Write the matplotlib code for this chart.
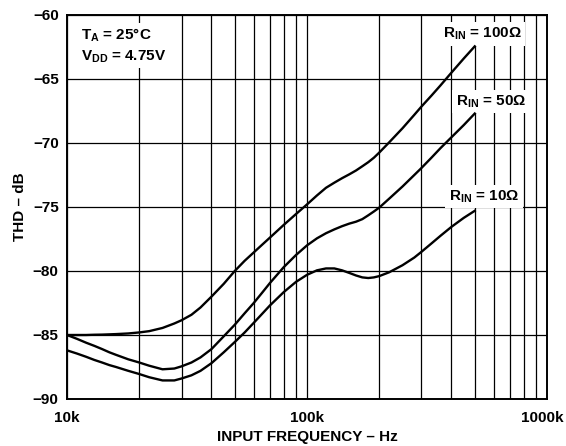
import matplotlib
matplotlib.use('Agg')
import matplotlib.pyplot as plt
from matplotlib.ticker import FixedLocator, NullFormatter
from matplotlib.transforms import ScaledTranslation

plt.rcParams['font.family'] = ['Liberation Sans', 'DejaVu Sans']
plt.rcParams['font.weight'] = 'bold'
plt.rcParams['mathtext.fontset'] = 'custom'
plt.rcParams['mathtext.rm'] = 'Liberation Sans:bold'
plt.rcParams['mathtext.bf'] = 'Liberation Sans:bold'
plt.rcParams['mathtext.default'] = 'bf'

# frequencies in kHz (same grid for all three curves), THD in dB
freq = [10, 11, 12, 13, 14, 15, 16, 18, 20, 22, 25, 28, 30, 33, 36, 40, 45, 50, 55, 60,
        65, 70, 80, 90, 100, 110, 120, 130, 140, 150, 160, 170, 180, 190, 200, 220,
        250, 280, 300, 330, 360, 400, 450, 500]

thd_100 = [-85.0, -85.0, -85.0, -84.98, -84.97, -84.95, -84.93, -84.88, -84.8, -84.7,
           -84.45, -84.1, -83.85, -83.42, -82.85, -82.0, -81.0, -80.0, -79.2, -78.55,
           -77.95, -77.4, -76.4, -75.55, -74.8, -74.1, -73.5, -73.1, -72.75, -72.45,
           -72.15, -71.82, -71.5, -71.15, -70.75, -69.95, -68.85, -67.8, -67.15, -66.3,
           -65.5, -64.5, -63.4, -62.45]

thd_50 = [-85.0, -85.3, -85.6, -85.85, -86.1, -86.35, -86.55, -86.9, -87.15, -87.4,
          -87.68, -87.62, -87.45, -87.15, -86.75, -86.1, -85.1, -84.2, -83.3, -82.5,
          -81.7, -80.95, -79.7, -78.75, -78.0, -77.45, -77.05, -76.75, -76.5, -76.3,
          -76.15, -75.95, -75.65, -75.35, -75.05, -74.35, -73.4, -72.5, -71.95, -71.15,
          -70.4, -69.55, -68.6, -67.7]

thd_10 = [-86.2, -86.45, -86.7, -86.95, -87.15, -87.35, -87.5, -87.8, -88.05, -88.3,
          -88.55, -88.55, -88.4, -88.15, -87.8, -87.2, -86.35, -85.55, -84.8, -84.05,
          -83.35, -82.7, -81.65, -80.85, -80.3, -79.95, -79.8, -79.8, -79.95, -80.15,
          -80.35, -80.5, -80.55, -80.5, -80.4, -80.1, -79.55, -78.95, -78.5, -77.85,
          -77.25, -76.55, -75.85, -75.3]

x_ticks = [10, 100, 1000]
x_tick_labels = ['10k', '100k', '1000k']
y_ticks = [-90, -85, -80, -75, -70, -65, -60]

fig = plt.figure(figsize=(5.66, 4.46), dpi=100)
ax = fig.add_axes([0.1184, 0.1054, 0.848, 0.861])

for thd in (thd_100, thd_50, thd_10):
    ax.plot(freq, thd, color='black', linewidth=1.7, zorder=3)

ax.set_xscale('log')
ax.set_xlim(10, 1000)
ax.set_ylim(-90, -60)

minor = [m * d for d in (10, 100) for m in range(2, 10)]
ax.xaxis.set_major_locator(FixedLocator(x_ticks))
ax.xaxis.set_minor_locator(FixedLocator(minor))
ax.xaxis.set_minor_formatter(NullFormatter())
ax.set_xticklabels(x_tick_labels)
ax.set_yticks(y_ticks)
ax.set_yticklabels([str(v).replace('-', '\u2212') for v in y_ticks])
ax.tick_params(which='both', length=0, labelsize=11)
ax.tick_params(axis='x', pad=9)
ax.tick_params(axis='y', pad=6)
for lab in ax.get_xticklabels() + ax.get_yticklabels():
    lab.set_fontweight('bold')

# last label sits a bit to the left so it stays inside the picture
last = ax.get_xticklabels()[-1]
last.set_transform(last.get_transform() + ScaledTranslation(-5 / 100, 0, fig.dpi_scale_trans))

ax.grid(True, which='both', color='black', linewidth=0.9, zorder=0)
ax.set_axisbelow(True)
for s in ax.spines.values():
    s.set_linewidth(1.4)

ax.set_xlabel('INPUT FREQUENCY \u2013 Hz', fontsize=11, fontweight='bold', labelpad=3)
ax.set_ylabel('THD \u2013 dB', fontsize=11, fontweight='bold', labelpad=4.5)

box = dict(facecolor='white', edgecolor='none', pad=2.5)
ax.text(0.03, 0.97, 'T$_{A}$ = 25\u00b0C\nV$_{DD}$ = 4.75V', transform=ax.transAxes,
        fontsize=11, fontweight='bold', va='top', ha='left', linespacing=1.35,
        bbox=box, zorder=2)
ax.text(536, -61.5, 'R$_{IN}$ = 100\u03a9', fontsize=11, fontweight='bold',
        ha='center', va='center', bbox=box, zorder=2)
ax.text(584, -66.75, 'R$_{IN}$ = 50\u03a9', fontsize=11, fontweight='bold',
        ha='center', va='center', bbox=box, zorder=2)
ax.text(546, -74.2, 'R$_{IN}$ = 10\u03a9', fontsize=11, fontweight='bold',
        ha='center', va='center', bbox=box, zorder=2)

plt.savefig('out.png', dpi=100)
